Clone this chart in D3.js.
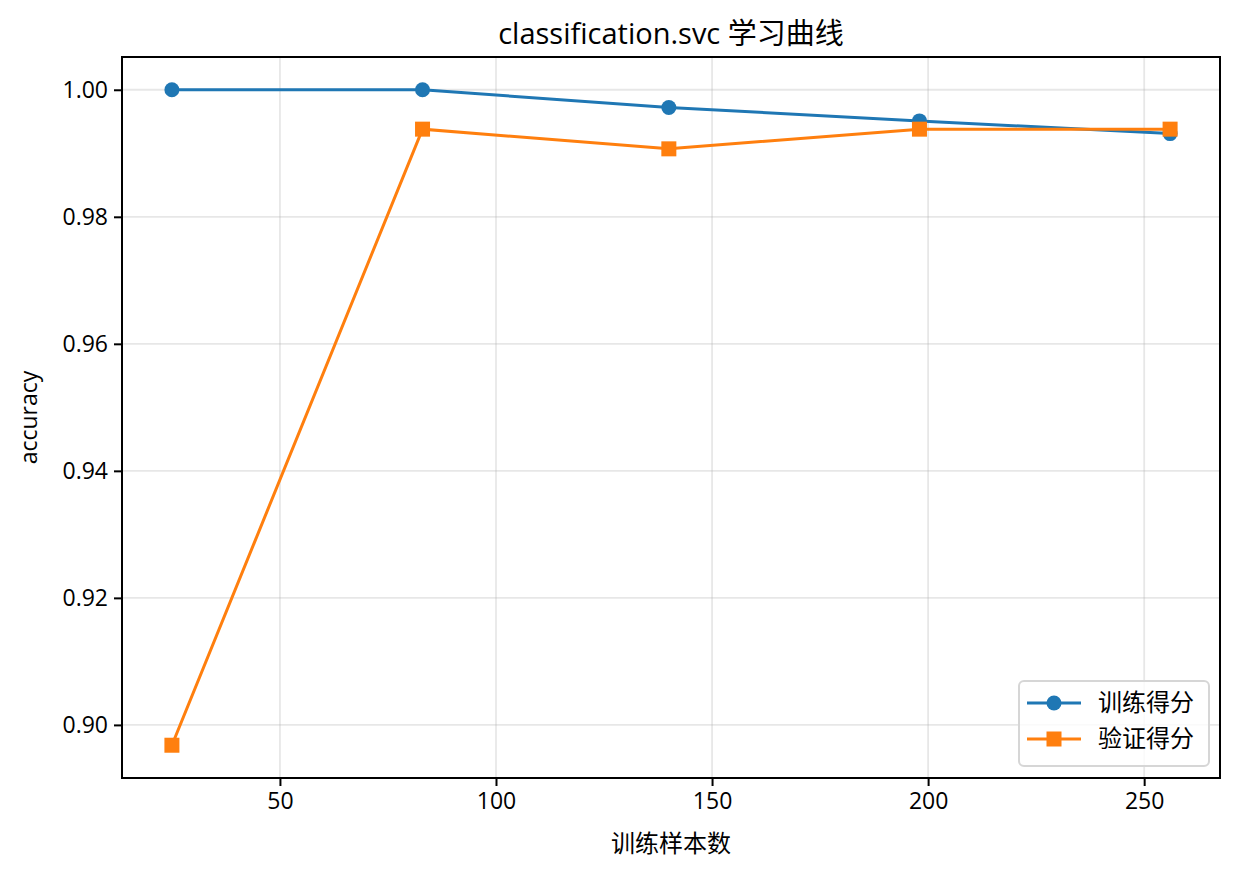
<!DOCTYPE html>
<html>
<head>
<meta charset="utf-8">
<script src="https://cdn.jsdelivr.net/npm/d3@7"></script>
<style>
  body { margin: 0; background: #fff; }
  text { font-family: "Open Sans", "Noto Sans CJK SC", sans-serif; fill: #000; }
</style>
</head>
<body>
<div id="chart"></div>
<script>
// chart data
var trainSizes = [25, 83, 140, 198, 256];
var trainScores = [1.0, 1.0, 0.9972, 0.9951, 0.9931];
var validScores = [0.8968, 0.9938, 0.9907, 0.9938, 0.9938];
var xTicks = [50, 100, 150, 200, 250];
var yTicks = [0.90, 0.92, 0.94, 0.96, 0.98, 1.00];
var seriesNames = ["训练得分", "验证得分"];
var titleText = "classification.svc 学习曲线";
var xLabelText = "训练样本数";
var yLabelText = "accuracy";

var svgWidth = 1239;
var svgHeight = 875;

var margin = { top: 57, right: 19, bottom: 97, left: 122 };
var chartWidth = svgWidth - margin.left - margin.right;
var chartHeight = svgHeight - margin.top - margin.bottom;

var svg = d3.select("#chart")
  .append("svg")
  .attr("width", svgWidth)
  .attr("height", svgHeight);

var chartGroup = svg.append("g")
  .attr("transform", `translate(${margin.left}, ${margin.top})`);

// scales with matplotlib style 5% margins
var xMin = d3.min(trainSizes), xMax = d3.max(trainSizes);
var xPad = (xMax - xMin) * 0.05;
var xScale = d3.scaleLinear()
  .domain([xMin - xPad, xMax + xPad])
  .range([0, chartWidth]);

var allY = trainScores.concat(validScores);
var yMin = d3.min(allY), yMax = d3.max(allY);
var yPad = (yMax - yMin) * 0.05;
var yScale = d3.scaleLinear()
  .domain([yMin - yPad, yMax + yPad])
  .range([chartHeight, 0]);

// grid
chartGroup.append("g")
  .selectAll("line")
  .data(xTicks)
  .enter()
  .append("line")
  .attr("x1", d => xScale(d))
  .attr("x2", d => xScale(d))
  .attr("y1", 0)
  .attr("y2", chartHeight)
  .attr("stroke", "#b0b0b0")
  .attr("stroke-opacity", 0.3)
  .attr("stroke-width", 1.8);

chartGroup.append("g")
  .selectAll("line")
  .data(yTicks)
  .enter()
  .append("line")
  .attr("x1", 0)
  .attr("x2", chartWidth)
  .attr("y1", d => yScale(d))
  .attr("y2", d => yScale(d))
  .attr("stroke", "#b0b0b0")
  .attr("stroke-opacity", 0.3)
  .attr("stroke-width", 1.8);

// axes
var bottomAxis = d3.axisBottom(xScale)
  .tickValues(xTicks)
  .tickSize(8)
  .tickPadding(7)
  .tickFormat(d3.format("d"));
var leftAxis = d3.axisLeft(yScale)
  .tickValues(yTicks)
  .tickSize(8)
  .tickPadding(6)
  .tickFormat(d3.format(".2f"));

var xAxis = chartGroup.append("g")
  .attr("transform", `translate(0, ${chartHeight})`)
  .call(bottomAxis);
var yAxis = chartGroup.append("g")
  .call(leftAxis);

[xAxis, yAxis].forEach(function(ax) {
  ax.select(".domain").remove();
  ax.selectAll(".tick line").attr("stroke", "#000").attr("stroke-width", 2);
  ax.selectAll(".tick text").attr("font-size", 23).attr("fill", "#000");
});

// frame
chartGroup.append("rect")
  .attr("x", 0)
  .attr("y", 0)
  .attr("width", chartWidth)
  .attr("height", chartHeight)
  .attr("fill", "none")
  .attr("stroke", "#000")
  .attr("stroke-width", 2);

// series
var series = [
  { name: seriesNames[0], values: trainScores, color: "#1f77b4", marker: "circle" },
  { name: seriesNames[1], values: validScores, color: "#ff7f0e", marker: "square" }
];

var line = d3.line()
  .x((d, i) => xScale(trainSizes[i]))
  .y(d => yScale(d));

function drawMarker(g, type, x, y, color) {
  if (type === "circle") {
    g.append("circle")
      .attr("cx", x)
      .attr("cy", y)
      .attr("r", 7.5)
      .attr("fill", color);
  } else {
    g.append("rect")
      .attr("x", x - 7.5)
      .attr("y", y - 7.5)
      .attr("width", 15)
      .attr("height", 15)
      .attr("fill", color);
  }
}

series.forEach(function(s) {
  var g = chartGroup.append("g");
  g.append("path")
    .datum(s.values)
    .attr("d", line)
    .attr("fill", "none")
    .attr("stroke", s.color)
    .attr("stroke-width", 3);
  s.values.forEach(function(v, i) {
    drawMarker(g, s.marker, xScale(trainSizes[i]), yScale(v), s.color);
  });
});

// title and labels
svg.append("text")
  .attr("x", margin.left + chartWidth / 2)
  .attr("y", 44)
  .attr("text-anchor", "middle")
  .attr("font-size", 29)
  .text(titleText);

svg.append("text")
  .attr("x", margin.left + chartWidth / 2)
  .attr("y", 852)
  .attr("text-anchor", "middle")
  .attr("font-size", 24)
  .text(xLabelText);

svg.append("text")
  .attr("transform", `translate(37, ${margin.top + chartHeight / 2}) rotate(-90)`)
  .attr("text-anchor", "middle")
  .attr("font-size", 23)
  .text(yLabelText);

// legend
var legend = svg.append("g")
  .attr("transform", "translate(1019, 681)");

legend.append("rect")
  .attr("width", 190)
  .attr("height", 85)
  .attr("rx", 5)
  .attr("fill", "#fff")
  .attr("fill-opacity", 0.8)
  .attr("stroke", "#d6d6d6")
  .attr("stroke-width", 2);

series.forEach(function(s, i) {
  var row = legend.append("g")
    .attr("transform", `translate(0, ${22 + i * 36})`);
  row.append("line")
    .attr("x1", 8)
    .attr("x2", 62)
    .attr("y1", 0)
    .attr("y2", 0)
    .attr("stroke", s.color)
    .attr("stroke-width", 3);
  drawMarker(row, s.marker, 35, 0, s.color);
  row.append("text")
    .attr("x", 79)
    .attr("y", 0)
    .attr("dy", "0.35em")
    .attr("font-size", 24)
    .text(s.name);
});
</script>
</body>
</html>
